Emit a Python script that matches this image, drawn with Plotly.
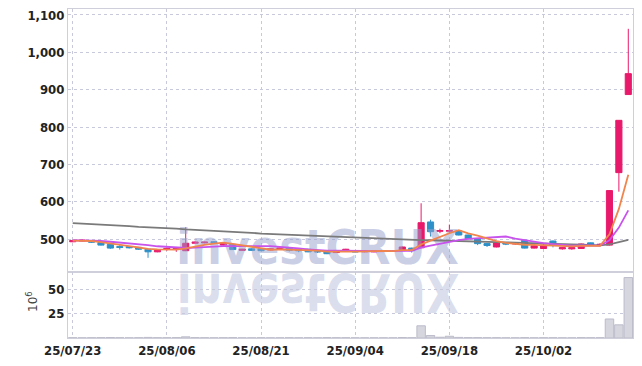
import base64
import plotly.graph_objects as go

dates = ["25/07/23","25/07/24","25/07/25","25/07/28","25/07/29","25/07/30","25/07/31",
         "25/08/01","25/08/04","25/08/05","25/08/06","25/08/07","25/08/08","25/08/11",
         "25/08/12","25/08/13","25/08/14","25/08/18","25/08/19","25/08/20","25/08/21",
         "25/08/22","25/08/25","25/08/26","25/08/27","25/08/28","25/08/29","25/09/01",
         "25/09/02","25/09/03","25/09/04","25/09/05","25/09/08","25/09/09","25/09/10",
         "25/09/11","25/09/12","25/09/15","25/09/16","25/09/17","25/09/18","25/09/19",
         "25/09/22","25/09/23","25/09/24","25/09/25","25/09/26","25/09/29","25/09/30",
         "25/10/01","25/10/02","25/10/10","25/10/13","25/10/14","25/10/15","25/10/16",
         "25/10/17","25/10/20","25/10/21","25/10/22"]

opens = [493,495,495,491,486,480,480,478,473,466,473,473,469,489,490,493,484,486,470,474,
         474,471,473,476,472,473,467,468,464,468,468,466,466,467,467,469,476,477,546,521,
         521,522,511,501,488,479,489,487,497,476,475,495,474,474,475,490,484,484,678,887]
highs = [498,499,497,492,487,484,481,479,474,471,478,479,532,494,493,494,491,487,474,475,
         475,475,477,477,473,474,468,469,469,474,469,469,470,470,470,480,477,596,552,528,
         539,523,512,502,489,491,490,491,498,483,486,496,478,478,488,491,489,631,818,1063]
lows = [492,494,490,483,474,472,475,471,450,465,469,466,468,488,489,490,483,471,469,469,
        468,470,472,467,465,465,463,460,463,467,465,465,465,466,466,468,464,476,507,516,
        517,510,500,484,479,478,484,485,475,475,474,478,472,472,474,483,483,483,627,887]
closes = [496,497,492,484,476,478,477,473,466,470,475,475,489,492,492,491,489,472,473,470,
          469,474,476,470,469,466,466,461,468,473,466,468,469,468,468,479,469,544,520,523,
          523,511,501,488,483,490,487,489,476,482,484,484,477,477,487,484,486,630,818,943]

ma5 = [496,496,495,492,489,485.4,481.4,477.6,474,472.8,472.2,471.8,475,480.2,484.6,487.8,
       490.6,487.2,483.4,479,474.6,471.6,472.4,471.8,471.6,471,469.4,466.4,466,466.8,466.8,
       467.2,468.8,468.8,467.8,470.4,470.6,485.6,496,507,515.8,524.2,515.6,509.2,501.2,
       494.6,489.8,487.4,485,484.8,483.6,483,480.6,480.8,481.8,481.8,482.2,512.8,581,672.2]
ma10 = [497,497,496,495,493,491,489,486,484,480.9,478.8,476.6,476.3,477.1,478.7,480,481.2,
        481.1,481.8,481.8,481.2,481.1,479.8,477.6,475.3,472.8,470.5,469.4,468.9,469.2,468.9,
        468.3,467.6,467.4,467.3,468.6,468.9,477.2,482.4,487.4,493.1,497.4,500.6,502.6,504.1,
        505.2,507,501.5,497.1,493,489.1,486.4,484,482.9,483.3,482.7,482.6,496.7,530.9,577]
ma60 = [543,542,540,539,537,536,535,533,532,530,529,528,526,525,524,522,521,520,518,517,
        515,514,513,511,510,509,507,506,505,504,503,502,501,500,499,498.5,498,497.5,497,496,
        495,494.5,494,493.5,493,492,491.5,491,490.5,490,489,488,487,486,485,484,483.5,486,491,498]
volume = [0.3,0.2,0.3,0.4,0.5,0.3,0.2,0.3,0.6,0.3,0.3,0.4,1.2,0.4,0.3,0.2,0.3,0.4,0.2,0.2,
          0.3,0.2,0.2,0.3,0.2,0.3,0.2,0.4,0.3,0.3,0.2,0.2,0.2,0.2,0.2,0.5,0.3,12.5,2.5,0.8,
          1.8,0.6,0.4,0.4,0.3,0.3,0.2,0.2,0.4,0.2,0.3,0.3,0.2,0.2,0.4,0.3,0.3,19.5,13.5,62]

price_ticks = [500, 600, 700, 800, 900, 1000, 1100]
vol_ticks = [25, 50]
watermark = "investCRUX"

xs = list(range(len(dates)))
tick_idx = xs[::10]
tick_txt = [dates[i] for i in tick_idx]

UP = "#e8196b"
DOWN = "#2e90c8"
GRID = "#c9c9dc"
FRAME = "#cfcfdc"
LABEL_FONT = dict(family="DejaVu Sans Condensed, DejaVu Sans, sans-serif",
                  size=13, color="#222222", weight="bold")
WM_FONT = "DejaVu Sans Condensed, DejaVu Sans, sans-serif"
WM_SIZE = 48

fig = go.Figure()

# watermark (drawn beneath everything else)
fig.add_trace(go.Scatter(x=[26.0], y=[466], mode="text", text=[watermark],
                         textposition="middle center", cliponaxis=False, hoverinfo="skip",
                         textfont=dict(family=WM_FONT, size=WM_SIZE, color="rgba(150,160,205,0.5)", weight="bold"),
                         xaxis="x", yaxis="y", showlegend=False))

fig.add_trace(go.Candlestick(x=xs, open=opens, high=highs, low=lows, close=closes,
                             increasing=dict(line=dict(color=UP, width=1), fillcolor=UP),
                             decreasing=dict(line=dict(color=DOWN, width=1), fillcolor=DOWN),
                             whiskerwidth=0, xaxis="x", yaxis="y", showlegend=False))

fig.add_trace(go.Scatter(x=xs, y=ma60, mode="lines", line=dict(color="#7a7a7a", width=1.8),
                         xaxis="x", yaxis="y", showlegend=False))
fig.add_trace(go.Scatter(x=xs, y=ma10, mode="lines", line=dict(color="#c853ec", width=1.8),
                         xaxis="x", yaxis="y", showlegend=False))
fig.add_trace(go.Scatter(x=xs, y=ma5, mode="lines", line=dict(color="#f0854e", width=1.8),
                         xaxis="x", yaxis="y", showlegend=False))

fig.add_trace(go.Bar(x=xs, y=volume, marker=dict(color="#d6d6de", line=dict(color="#bcbccb", width=1)),
                     xaxis="x2", yaxis="y2", showlegend=False))

# mirrored watermark in the volume pane
svg = ('<svg xmlns="http://www.w3.org/2000/svg" width="565" height="60" viewBox="0 0 565 60">'
       '<g transform="translate(0,2) scale(1,-1.1)"><text x="250" y="0" text-anchor="middle" '
       'font-family="DejaVu Sans Condensed, DejaVu Sans, sans-serif" font-weight="bold" '
       'font-size="' + str(WM_SIZE) + '" fill="rgb(150,160,205)" fill-opacity="0.35">' + watermark +
       '</text></g></svg>')
src = "data:image/svg+xml;base64," + base64.b64encode(svg.encode()).decode()

axis_common = dict(showline=True, linecolor=FRAME, linewidth=1, mirror=True, zeroline=False,
                   gridcolor=GRID, griddash="dot", gridwidth=1, ticks="", tickfont=LABEL_FONT,
                   automargin=False)

fig.update_layout(
    width=642, height=366,
    margin=dict(l=68, r=9, t=9, b=28),
    paper_bgcolor="white", plot_bgcolor="rgba(0,0,0,0)",
    showlegend=False, hovermode=False, bargap=0.1, boxgap=0.35, boxgroupgap=0,
    xaxis=dict(domain=[0, 1], range=[-0.5, 59.5], anchor="y", tickvals=tick_idx, ticktext=tick_txt,
               showticklabels=False, rangeslider=dict(visible=False), **axis_common),
    yaxis=dict(domain=[0.2, 1], range=[411.5, 1116], tickvals=price_ticks, tickformat=",d",
               anchor="x", **axis_common),
    xaxis2=dict(domain=[0, 1], range=[-0.5, 59.5], anchor="y2", matches="x", tickvals=tick_idx,
                ticktext=tick_txt, **axis_common),
    yaxis2=dict(domain=[0, 0.2], range=[0, 67.5], tickvals=vol_ticks, anchor="x2", **axis_common),
    images=[dict(source=src, xref="paper", yref="paper", x=0, y=0.2, sizex=1, sizey=60/329,
                 xanchor="left", yanchor="top", sizing="stretch", layer="below")],
    annotations=[dict(text="10<sup>6</sup>", xref="paper", yref="paper", x=-0.064, y=0.112,
                      textangle=-90, showarrow=False, xanchor="center", yanchor="middle",
                      font=dict(family="DejaVu Sans", size=12, color="#444"))],
)

fig.write_html("out.html", config={"displayModeBar": False, "staticPlot": True},
               post_script="document.body.style.margin='0';")
